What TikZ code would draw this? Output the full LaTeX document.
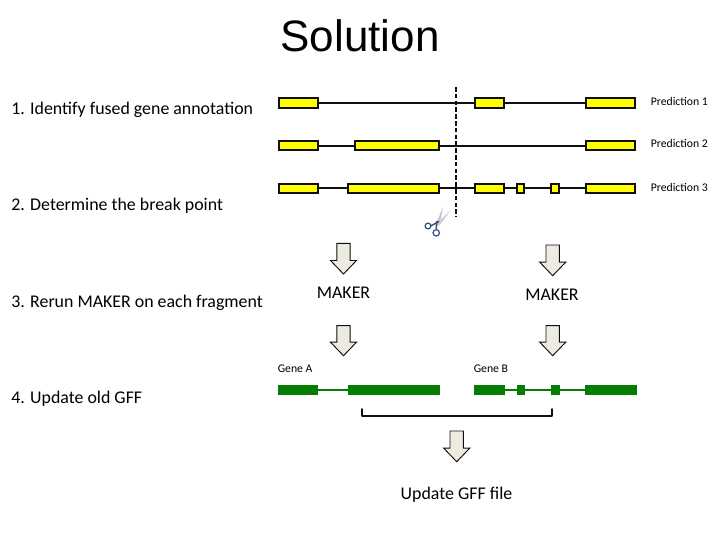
\documentclass[tikz,border=0pt]{standalone}
\usepackage{fontspec}
\setmainfont{Carlito}
\newfontfamily\titlefont{Liberation Sans}
\definecolor{exonyellow}{RGB}{255,255,0}
\definecolor{exongreen}{RGB}{5,125,5}
\definecolor{arrowfill}{RGB}{237,235,224}
\definecolor{inkdark}{RGB}{15,15,15}
\definecolor{scissorblue}{RGB}{50,80,130}
\definecolor{bladegray}{RGB}{195,195,195}
\newcommand{\px}{0.75pt}
\tikzset{
  x=0.75pt,y=-0.75pt,
  yexon/.style={draw=inkdark,fill=exonyellow,line width=1.5pt,inner sep=0pt,minimum height=9.4*\px,outer sep=0pt},
  gexon/.style={fill=exongreen,inner sep=0pt,minimum height=10.5*\px,outer sep=0pt},
  yline/.style={draw=inkdark,line width=1.25pt},
  gline/.style={draw=exongreen,line width=1.2pt},
  blockarrow/.style={draw=inkdark,fill=arrowfill,line width=0.7pt,line join=miter},
  steplabel/.style={font=\fontsize{13.4}{15}\selectfont,anchor=mid west,inner sep=0pt},
  predlabel/.style={font=\fontsize{8.8}{10}\selectfont,anchor=mid west,inner sep=0pt},
  midlabel/.style={font=\fontsize{13.4}{15}\selectfont,inner sep=0pt},
}
% name, x1, x2, y
\newcommand{\yex}[4]{\node[yexon,minimum width={(#3-#2)*\px}] (#1) at ({(#2+#3)/2},#4) {};}
\newcommand{\gex}[4]{\node[gexon,minimum width={(#3-#2)*\px}] (#1) at ({(#2+#3)/2},#4) {};}
% centre x, top y, tip y
\newcommand{\blockarr}[3]{\draw[blockarrow] ({#1-6.7},#2) -- ({#1+6.7},#2) -- ({#1+6.7},{#3-13.5}) -- ({#1+13},{#3-13.5}) -- (#1,#3) -- ({#1-13},{#3-13.5}) -- ({#1-6.7},{#3-13.5}) -- cycle;}
\begin{document}
\begin{tikzpicture}
\useasboundingbox (0,0) rectangle (720,540);
\fill[white] (0,0) rectangle (720,540);
\node[font=\titlefont\fontsize{33}{38}\selectfont,inner sep=0pt] (title) at (360,36) {Solution};

\node[steplabel] (s1) at (11,111.5) {1. Identify fused gene annotation};
\node[steplabel] (s2) at (11,207.5) {2. Determine the break point};
\node[steplabel] (s3) at (11,304.5) {3. Rerun MAKER on each fragment};
\node[steplabel] (s4) at (11,400.5) {4. Update old GFF};

% Prediction 1
\yex{a1}{278.5}{317.7}{103}
\yex{a2}{475}{504}{103}
\yex{a3}{585.7}{635}{103}
\draw[yline,line width=1.6pt] (a1) -- (a2) (a2) -- (a3);
% Prediction 2
\yex{b1}{278.5}{317.7}{145.7}
\yex{b2}{355}{439.3}{145.7}
\yex{b3}{585.7}{635}{145.7}
\draw[yline] (b1) -- (b2) (b2) -- (b3);
% Prediction 3
\yex{c1}{278.5}{317.7}{188.3}
\yex{c2}{348.3}{439.3}{188.3}
\yex{c3}{475}{504}{188.3}
\yex{c4}{517.3}{524.3}{188.3}
\yex{c5}{551.3}{558.7}{188.3}
\yex{c6}{585.7}{635}{188.3}
\draw[yline] (c1) -- (c2) (c2) -- (c3) (c3) -- (c4) (c4) -- (c5) (c5) -- (c6);

\node[predlabel] (p1) at (650.5,102) {Prediction 1};
\node[predlabel] (p2) at (650.5,144.5) {Prediction 2};
\node[predlabel] (p3) at (650.5,188.5) {Prediction 3};

% break point
\coordinate (cuttop) at (455.7,87);
\coordinate (cutbot) at (455.7,217);
\draw[draw=inkdark,line width=1.5pt,dash pattern=on 3.4pt off 1.7pt] (cuttop) -- (cutbot);

% scissors
\fill[bladegray] (436,224) -- (443,207) -- (441,218) -- (438,225) -- cycle;
\fill[bladegray!80] (436,224) -- (450,211) -- (443,221) -- (438,226) -- cycle;
\draw[scissorblue,line width=0.9pt] (428,226) circle[radius=2.9] (436.2,232.8) circle[radius=3.2];
\draw[scissorblue,line width=1.1pt] (430.5,226) -- (439,221.5) (436.2,229.5) -- (436.8,221);

% block arrows
\blockarr{343.5}{243.3}{274}
\blockarr{552.7}{245}{275.7}
\blockarr{343.5}{325.7}{355.7}
\blockarr{552.7}{325.7}{355.7}
\blockarr{456.7}{431}{461.7}

\node[midlabel] (m1) at (343.5,293) {MAKER};
\node[midlabel] (m2) at (552,295) {MAKER};

\node[predlabel] (ga) at (277.5,369) {Gene A};
\node[predlabel] (gb) at (473.5,369) {Gene B};

% genes
\gex{g1}{278}{318}{390}
\gex{g2}{348}{440}{390}
\gex{h1}{474.3}{505}{390}
\gex{h2}{516.7}{525}{390}
\gex{h3}{551}{560}{390}
\gex{h4}{585}{636.5}{390}
\draw[gline] (g1) -- (g2);
\draw[gline] (h1) -- (h2) (h2) -- (h3) (h3) -- (h4);

% bracket
\coordinate (bl) at (362.3,409);
\coordinate (br) at (551.7,409);
\draw[draw=inkdark,line width=1.3pt,line join=round,line cap=round] (bl) -- (362.3,415.8) -- (551.7,415.8) -- (br);

\node[midlabel] (up) at (456.5,495) {Update GFF file};
\end{tikzpicture}
\end{document}
